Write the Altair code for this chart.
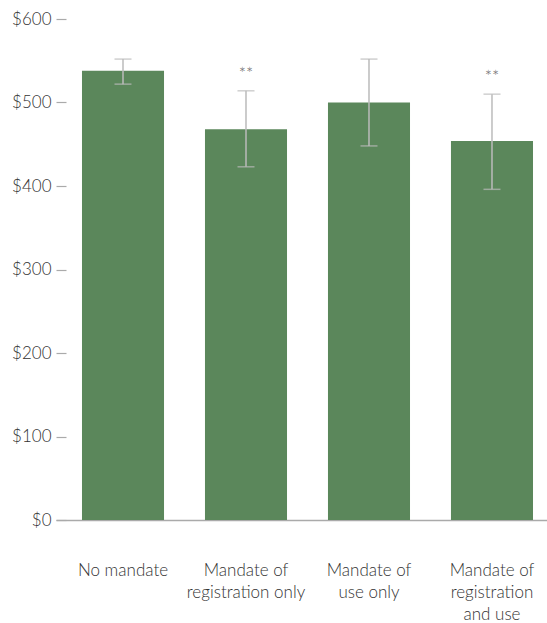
import altair as alt
import pandas as pd

categories = ["No mandate", "Mandate of registration only", "Mandate of use only", "Mandate of registration and use"]
label_lines = ["No mandate", "Mandate of|registration only", "Mandate of|use only", "Mandate of|registration|and use"]
values = [538, 468, 500, 454]
lower = [522, 423, 448, 396]
upper = [552, 514, 552, 510]
marks = ["", "**", "", "**"]
y_ticks = [0, 100, 200, 300, 400, 500, 600]

df = pd.DataFrame({"cat": categories, "value": values, "lo": lower, "hi": upper, "sig": marks})

label_map = ", ".join(f"'{c}': '{l}'" for c, l in zip(categories, label_lines))
label_expr = "split({" + label_map + "}[datum.label], '|')"

FONT = "Lato"
TXT = "#333333"

xscale = alt.Scale(domain=categories, paddingInner=0.333, paddingOuter=0.1625, align=0.65)
x = alt.X("cat:N", scale=xscale, sort=categories, title=None,
          axis=alt.Axis(labelAngle=0, labelExpr=label_expr, labelFont=FONT, labelFontSize=17,
                        labelFontWeight=300, grid=False,
                        labelColor=TXT, labelPadding=50, labelLineHeight=22, ticks=False,
                        domainColor="#aaaaaa", domainWidth=1.5, labelBaseline="middle"))
yscale = alt.Scale(domain=[0, 600], nice=False)

bars = alt.Chart(df).mark_bar(color="#5b875b").encode(
    x=x,
    y=alt.Y("value:Q", scale=yscale, title=None,
            axis=alt.Axis(values=y_ticks, labelExpr="'$' + datum.value", domain=False, grid=False,
                          tickSize=10, tickColor="#aaaaaa", tickWidth=1.2, offset=-10,
                          labelFont=FONT, labelFontSize=17, labelFontWeight=300,
                          labelColor=TXT, labelPadding=5)),
)

err = alt.Chart(df).mark_rule(color="#bbbbbb", strokeWidth=1.5).encode(
    x=alt.X("cat:N", scale=xscale, sort=categories), y="lo:Q", y2="hi:Q")
cap_hi = alt.Chart(df).mark_tick(color="#bbbbbb", thickness=1.5, size=17, orient="horizontal").encode(
    x=alt.X("cat:N", scale=xscale, sort=categories), y="hi:Q")
cap_lo = alt.Chart(df).mark_tick(color="#bbbbbb", thickness=1.5, size=17, orient="horizontal").encode(
    x=alt.X("cat:N", scale=xscale, sort=categories), y="lo:Q")
sig = alt.Chart(df).mark_text(font=FONT, fontSize=17, fontWeight=300, color="#666666", dy=-16,
                              baseline="middle").encode(
    x=alt.X("cat:N", scale=xscale, sort=categories), y="hi:Q", text="sig:N")

chart = alt.layer(bars, err, cap_hi, cap_lo, sig).properties(
    width=491, height=501,
    background="white",
    autosize=alt.AutoSizeParams(type="none"),
    padding={"left": 56, "top": 19, "right": 0, "bottom": 103},
).configure_view(stroke=None).configure_axis(grid=False)

chart.save("out.html", embed_options={"renderer": "svg", "actions": False})
